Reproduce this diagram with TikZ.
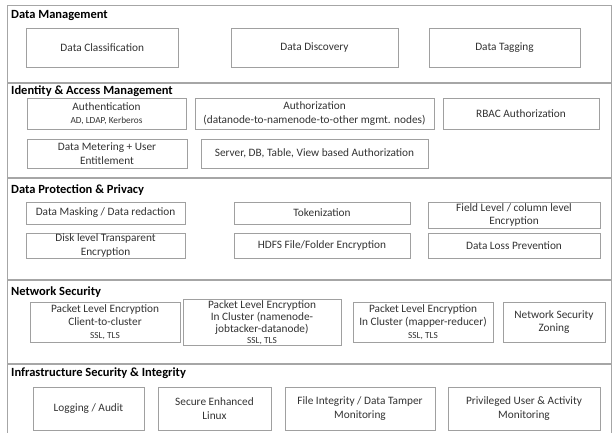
\documentclass[tikz,border=0pt]{standalone}
\usepackage{fontspec}
\setmainfont{Carlito}
\usetikzlibrary{shadows}
\definecolor{framegray}{HTML}{A6A6A6}
\definecolor{boxgray}{HTML}{A0A0A0}
\definecolor{txtgray}{HTML}{333333}
\tikzset{
  box/.style={draw=boxgray, line width=0.9pt, fill=white, align=center, inner sep=0.5pt,
    text=txtgray, font=\fontsize{11.3}{13.5}\selectfont,
    drop shadow={shadow xshift=0.8pt, shadow yshift=-0.8pt, opacity=0.25, fill=black}},
  hdr/.style={anchor=west, inner sep=0pt, font=\fontsize{12.5}{14}\selectfont\bfseries, text=black},
  sep/.style={draw=framegray, line width=1.6pt},
  frm/.style={draw=framegray, line width=1pt}
}
\newcommand{\smalltxt}{\fontsize{9.3}{11}\selectfont}
\begin{document}
\begin{tikzpicture}[x=1pt,y=-1pt]
\useasboundingbox (0,0) rectangle (613,433);
\fill[white] (0,0) rectangle (613,433);
% frame
\draw[frm] (7,434) -- (7,6) -- (611,6) -- (611,434);
% separators
\draw[sep] (7,83) -- (611,83);
\draw[sep] (7,178) -- (611,178);
\draw[sep] (7,280) -- (611,280);
\draw[sep] (7,364) -- (611,364);
% headers
\node[hdr] (h1) at (11,16) {Data Management};
\node[hdr] (h2) at (11,91) {Identity \& Access Management};
\node[hdr] (h3) at (11,190) {Data Protection \& Privacy};
\node[hdr] (h4) at (11,292) {Network Security};
\node[hdr] (h5) at (11,373) {Infrastructure Security \& Integrity};
% Data Management
\node[box, minimum width=151.5pt, minimum height=39pt] (dc) at (102.25,47.5) {Data Classification};
\node[box, minimum width=167pt, minimum height=39pt] (dd) at (314.5,47.5) {Data Discovery};
\node[box, minimum width=151pt, minimum height=39pt] (dt) at (504.5,47.5) {Data Tagging};
% Identity & Access Management
\node[box, minimum width=159pt, minimum height=31pt] (authn) at (106.5,113.5) {Authentication\\[-1pt]{\smalltxt AD, LDAP, Kerberos}};
\node[box, minimum width=239pt, minimum height=31pt] (authz) at (314.5,113.5) {Authorization\\(datanode-to-namenode-to-other mgmt. nodes)};
\node[box, minimum width=156pt, minimum height=31pt] (rbac) at (521,113.5) {RBAC Authorization};
\node[box, minimum width=160pt, minimum height=29pt] (dm) at (107,153.5) {Data Metering + User\\Entitlement};
\node[box, minimum width=227pt, minimum height=29pt] (srv) at (314.5,153.5) {Server, DB, Table, View based Authorization};
% Data Protection & Privacy
\node[box, minimum width=159pt, minimum height=22pt] (mask) at (105.5,213) {Data Masking / Data redaction};
\node[box, minimum width=176pt, minimum height=22pt] (tok) at (322,213) {Tokenization};
\node[box, minimum width=172pt, minimum height=26pt] (fld) at (514,215) {Field Level / column level\\Encryption};
\node[box, minimum width=159pt, minimum height=25pt] (disk) at (105.5,245.5) {Disk level Transparent\\Encryption};
\node[box, minimum width=176pt, minimum height=25pt] (hdfs) at (322,245.5) {HDFS File/Folder Encryption};
\node[box, minimum width=172pt, minimum height=25pt] (dlp) at (514,245.5) {Data Loss Prevention};
% Network Security
\node[box, minimum width=150pt, minimum height=40pt] (ple1) at (105,322) {Packet Level Encryption\\Client-to-cluster\\[-1pt]{\smalltxt SSL, TLS}};
\node[box, minimum width=158pt, minimum height=45pt, font=\fontsize{11.3}{12.3}\selectfont] (ple2) at (262,322.5) {Packet Level Encryption\\In Cluster (namenode-\\jobtacker-datanode)\\[-1.5pt]{\smalltxt SSL, TLS}};
\node[box, minimum width=140pt, minimum height=40pt] (ple3) at (423,322) {Packet Level Encryption\\In Cluster (mapper-reducer)\\[-1pt]{\smalltxt SSL, TLS}};
\node[box, minimum width=102pt, minimum height=40pt] (nsz) at (554,322) {Network Security\\Zoning};
% Infrastructure Security & Integrity
\node[box, minimum width=111pt, minimum height=43pt] (log) at (88.5,408.5) {Logging / Audit};
\node[box, minimum width=113pt, minimum height=43pt] (sel) at (214.5,408.5) {Secure Enhanced\\Linux};
\node[box, minimum width=150pt, minimum height=43pt] (fi) at (360,408.5) {File Integrity / Data Tamper\\Monitoring};
\node[box, minimum width=152pt, minimum height=43pt] (pu) at (524,408.5) {Privileged User \& Activity\\Monitoring};
\end{tikzpicture}
\end{document}
